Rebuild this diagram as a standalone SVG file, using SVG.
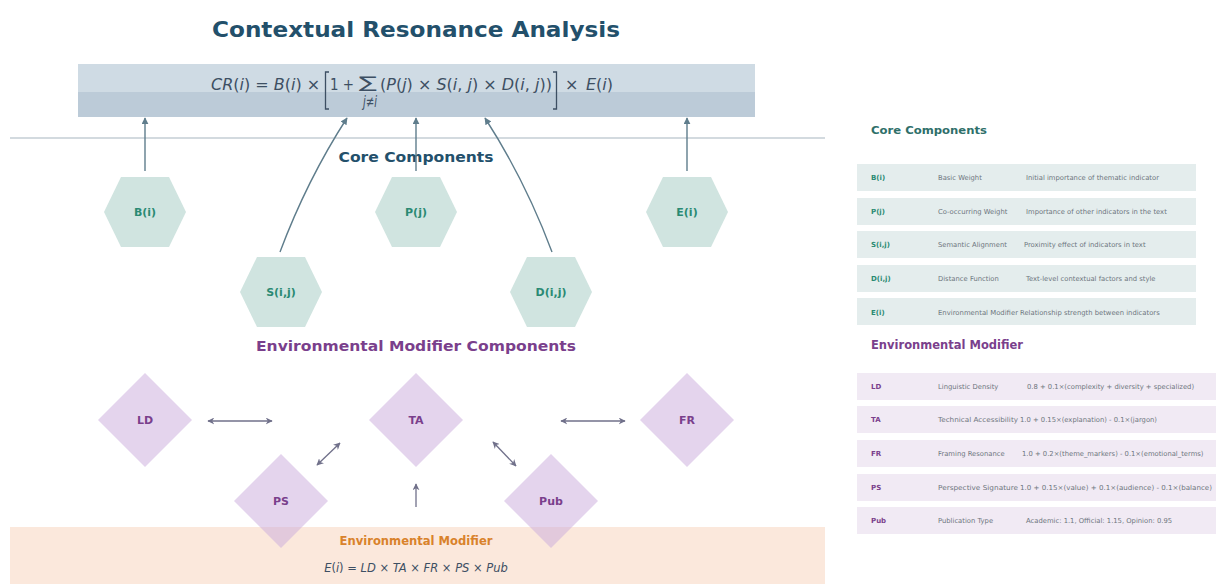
<svg xmlns="http://www.w3.org/2000/svg" width="1218" height="584" viewBox="0 0 1218 584">
<style>
  text { font-family: "DejaVu Sans", "Liberation Sans", sans-serif; }
  .title { font-size: 21px; font-weight: bold; fill: #23506b; }
  .sec-core { font-size: 14.5px; font-weight: bold; fill: #23506b; }
  .sec-env { font-size: 14.5px; font-weight: bold; fill: #7a3f8c; }
  .hex { fill: #d0e4e0; }
  .dia { fill: #c9a9db; fill-opacity: 0.5; }
  .hlabel { font-size: 11px; font-weight: bold; fill: #2a8a73; text-anchor: middle; }
  .dlabel { font-size: 11px; font-weight: bold; fill: #7a3f8c; text-anchor: middle; }
  .f { font-size: 16px; fill: #3d4f63; }
  .it { font-style: italic; }
  .brk { fill: none; stroke: #3d4f63; stroke-width: 1.3; }
  .core-arrow { fill: none; stroke: #5f7d8c; stroke-width: 1.4; }
  .env-arrow { fill: none; stroke: #70708a; stroke-width: 1.3; }
  .ptitle-core { font-size: 11px; font-weight: bold; fill: #2f6f6a; }
  .ptitle-env { font-size: 11.5px; font-weight: bold; fill: #7a3f8c; }
  .row-core { fill: #e4eded; }
  .row-env { fill: #f1eaf4; }
  .sym-core { font-size: 7px; font-weight: bold; fill: #2a8a73; }
  .sym-env { font-size: 7px; font-weight: bold; fill: #7a3f8c; }
  .cell { font-size: 6.8px; fill: #6e767e; }
</style>
<defs>
  <marker id="ah-core" viewBox="0 0 10 10" refX="9" refY="5" markerWidth="7" markerHeight="7" markerUnits="userSpaceOnUse" orient="auto">
    <path d="M0,0 L10,5 L0,10 z" fill="#5f7d8c"/>
  </marker>
  <marker id="ah-env" viewBox="0 0 10 10" refX="9" refY="5" markerWidth="7" markerHeight="7" markerUnits="userSpaceOnUse" orient="auto-start-reverse">
    <path d="M0,0 L10,5 L0,10 L3,5 z" fill="#70708a"/>
  </marker>
</defs>

<rect width="1218" height="584" fill="#ffffff"/>

<!-- Title -->
<text class="title" x="416" y="37" text-anchor="middle" textLength="408" lengthAdjust="spacingAndGlyphs">Contextual Resonance Analysis</text>

<!-- Formula box -->
<g id="formula">
  <rect x="78" y="64" width="677" height="28" fill="#cfdbe4"/>
  <rect x="78" y="92" width="677" height="25" fill="#bccbd8"/>
  <text class="f" x="211" y="90"><tspan class="it">CR</tspan>(<tspan class="it">i</tspan>) = <tspan class="it">B</tspan>(<tspan class="it">i</tspan>) ×</text>
  <path class="brk" d="M329,72 H325.5 V109 H329"/>
  <text class="f" x="330" y="90" textLength="24" lengthAdjust="spacingAndGlyphs">1 +</text>
  <text class="f" x="359" y="88" font-size="21" textLength="18" lengthAdjust="spacingAndGlyphs">∑</text>
  <text class="f it" x="363" y="107" font-size="8.5" textLength="14" lengthAdjust="spacingAndGlyphs">j≠i</text>
  <text class="f" x="380" y="90">(<tspan class="it">P</tspan>(<tspan class="it">j</tspan>) × <tspan class="it">S</tspan>(<tspan class="it">i</tspan>, <tspan class="it">j</tspan>) × <tspan class="it">D</tspan>(<tspan class="it">i</tspan>, <tspan class="it">j</tspan>))</text>
  <path class="brk" d="M553,72 H556.5 V109 H553"/>
  <text class="f" x="565" y="90">×</text>
  <text class="f" x="586" y="90" font-size="17"><tspan class="it">E</tspan>(<tspan class="it">i</tspan>)</text>
</g>

<!-- separator -->
<line x1="10" y1="138" x2="825" y2="138" stroke="#d3dadf" stroke-width="2"/>

<text class="sec-core" x="416" y="162" text-anchor="middle" textLength="155" lengthAdjust="spacingAndGlyphs">Core Components</text>
<text class="sec-env" x="416" y="351" text-anchor="middle" textLength="320" lengthAdjust="spacingAndGlyphs">Environmental Modifier Components</text>

<!-- Environmental modifier band -->
<g id="env-band">
  <rect x="10" y="527" width="815" height="57" fill="#fbe8dc"/>
  <text x="416" y="545" text-anchor="middle" font-size="11.5" font-weight="bold" fill="#d9822b" textLength="153" lengthAdjust="spacingAndGlyphs">Environmental Modifier</text>
  <text x="416" y="572" text-anchor="middle" font-size="11.5" fill="#3d4f63"><tspan class="it">E</tspan>(<tspan class="it">i</tspan>) = <tspan class="it">LD</tspan> × <tspan class="it">TA</tspan> × <tspan class="it">FR</tspan> × <tspan class="it">PS</tspan> × <tspan class="it">Pub</tspan></text>
</g>

<!-- Connectors -->
<g id="connectors">
  <path class="core-arrow" d="M145,171 V118" marker-end="url(#ah-core)"/>
  <path class="core-arrow" d="M416,171 V118" marker-end="url(#ah-core)"/>
  <path class="core-arrow" d="M687,171 V118" marker-end="url(#ah-core)"/>
  <path class="core-arrow" d="M280,252 Q307,180 347,118" marker-end="url(#ah-core)"/>
  <path class="core-arrow" d="M552,252 Q525,180 485,118" marker-end="url(#ah-core)"/>

  <path class="env-arrow" d="M208,421 H272" marker-start="url(#ah-env)" marker-end="url(#ah-env)"/>
  <path class="env-arrow" d="M561,421 H625" marker-start="url(#ah-env)" marker-end="url(#ah-env)"/>
  <path class="env-arrow" d="M317,465 L340,443" marker-start="url(#ah-env)" marker-end="url(#ah-env)"/>
  <path class="env-arrow" d="M493,442 L516,466" marker-start="url(#ah-env)" marker-end="url(#ah-env)"/>
  <path class="env-arrow" d="M416,507 V484" marker-end="url(#ah-env)"/>
</g>

<!-- Core hexagon nodes -->
<g id="node-B" transform="translate(145,212)">
  <polygon class="hex" points="-41,0 -24,-35 24,-35 41,0 24,35 -24,35"/>
  <text class="hlabel" y="4">B(i)</text>
</g>
<g id="node-P" transform="translate(416,212)">
  <polygon class="hex" points="-41,0 -24,-35 24,-35 41,0 24,35 -24,35"/>
  <text class="hlabel" y="4">P(j)</text>
</g>
<g id="node-E" transform="translate(687,212)">
  <polygon class="hex" points="-41,0 -24,-35 24,-35 41,0 24,35 -24,35"/>
  <text class="hlabel" y="4">E(i)</text>
</g>
<g id="node-S" transform="translate(281,292)">
  <polygon class="hex" points="-41,0 -24,-35 24,-35 41,0 24,35 -24,35"/>
  <text class="hlabel" y="4">S(i,j)</text>
</g>
<g id="node-D" transform="translate(551,292)">
  <polygon class="hex" points="-41,0 -24,-35 24,-35 41,0 24,35 -24,35"/>
  <text class="hlabel" y="4">D(i,j)</text>
</g>

<!-- Environmental diamond nodes -->
<g id="node-LD" transform="translate(145,420)">
  <polygon class="dia" points="0,-47 47,0 0,47 -47,0"/>
  <text class="dlabel" y="4">LD</text>
</g>
<g id="node-TA" transform="translate(416,420)">
  <polygon class="dia" points="0,-47 47,0 0,47 -47,0"/>
  <text class="dlabel" y="4">TA</text>
</g>
<g id="node-FR" transform="translate(687,420)">
  <polygon class="dia" points="0,-47 47,0 0,47 -47,0"/>
  <text class="dlabel" y="4">FR</text>
</g>
<g id="node-PS" transform="translate(281,501)">
  <polygon class="dia" points="0,-47 47,0 0,47 -47,0"/>
  <text class="dlabel" y="4">PS</text>
</g>
<g id="node-Pub" transform="translate(551,501)">
  <polygon class="dia" points="0,-47 47,0 0,47 -47,0"/>
  <text class="dlabel" y="4">Pub</text>
</g>

<!-- Right panel legend -->
<g id="legend-core">
  <text class="ptitle-core" x="871" y="134" textLength="116" lengthAdjust="spacingAndGlyphs">Core Components</text>
  <rect class="row-core" x="857" y="164" width="339" height="27"/>
  <text class="sym-core" x="871" y="180">B(i)</text>
  <text class="cell" x="938" y="180">Basic Weight</text>
  <text class="cell" x="1026" y="180">Initial importance of thematic indicator</text>

  <rect class="row-core" x="857" y="198" width="339" height="27"/>
  <text class="sym-core" x="871" y="214">P(j)</text>
  <text class="cell" x="938" y="214">Co-occurring Weight</text>
  <text class="cell" x="1026" y="214">Importance of other indicators in the text</text>

  <rect class="row-core" x="857" y="231" width="339" height="27"/>
  <text class="sym-core" x="871" y="247">S(i,j)</text>
  <text class="cell" x="938" y="247">Semantic Alignment</text>
  <text class="cell" x="1024" y="247">Proximity effect of indicators in text</text>

  <rect class="row-core" x="857" y="265" width="339" height="27"/>
  <text class="sym-core" x="871" y="281">D(i,j)</text>
  <text class="cell" x="938" y="281">Distance Function</text>
  <text class="cell" x="1026" y="281">Text-level contextual factors and style</text>

  <rect class="row-core" x="857" y="298" width="339" height="27"/>
  <text class="sym-core" x="871" y="315">E(i)</text>
  <text class="cell" x="938" y="315" textLength="80" lengthAdjust="spacingAndGlyphs">Environmental Modifier</text>
  <text class="cell" x="1020" y="315">Relationship strength between indicators</text>
</g>

<g id="legend-env">
  <text class="ptitle-env" x="871" y="349" textLength="152" lengthAdjust="spacingAndGlyphs">Environmental Modifier</text>
  <rect class="row-env" x="857" y="373" width="359" height="27"/>
  <text class="sym-env" x="871" y="389">LD</text>
  <text class="cell" x="938" y="389">Linguistic Density</text>
  <text class="cell" x="1027" y="389">0.8 + 0.1×(complexity + diversity + specialized)</text>

  <rect class="row-env" x="857" y="406" width="359" height="27"/>
  <text class="sym-env" x="871" y="422">TA</text>
  <text class="cell" x="938" y="422" textLength="80" lengthAdjust="spacingAndGlyphs">Technical Accessibility</text>
  <text class="cell" x="1020" y="422">1.0 + 0.15×(explanation) - 0.1×(jargon)</text>

  <rect class="row-env" x="857" y="440" width="359" height="27"/>
  <text class="sym-env" x="871" y="456">FR</text>
  <text class="cell" x="938" y="456">Framing Resonance</text>
  <text class="cell" x="1022" y="456">1.0 + 0.2×(theme_markers) - 0.1×(emotional_terms)</text>

  <rect class="row-env" x="857" y="474" width="359" height="27"/>
  <text class="sym-env" x="871" y="490">PS</text>
  <text class="cell" x="938" y="490" textLength="80" lengthAdjust="spacingAndGlyphs">Perspective Signature</text>
  <text class="cell" x="1020" y="490" textLength="192" lengthAdjust="spacingAndGlyphs">1.0 + 0.15×(value) + 0.1×(audience) - 0.1×(balance)</text>

  <rect class="row-env" x="857" y="507" width="359" height="27"/>
  <text class="sym-env" x="871" y="523">Pub</text>
  <text class="cell" x="938" y="523">Publication Type</text>
  <text class="cell" x="1026" y="523">Academic: 1.1, Official: 1.15, Opinion: 0.95</text>
</g>
</svg>
